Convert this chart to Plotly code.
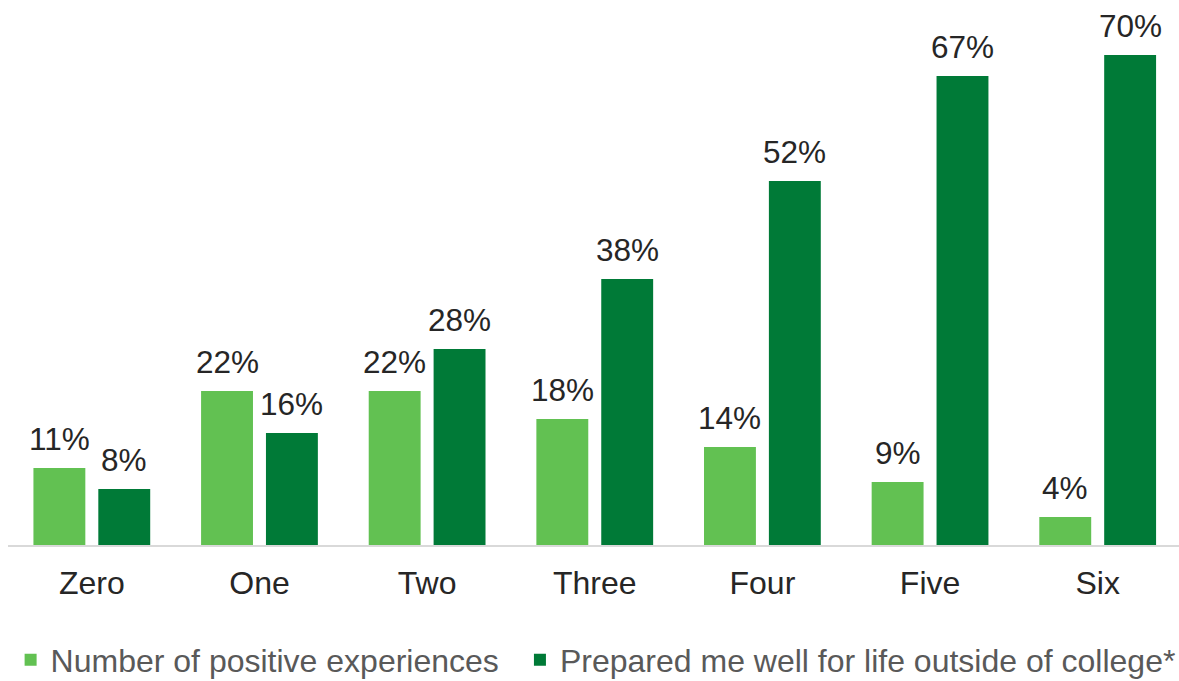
import plotly.graph_objects as go

categories = ["Zero", "One", "Two", "Three", "Four", "Five", "Six"]
positive = [11, 22, 22, 18, 14, 9, 4]
prepared = [8, 16, 28, 38, 52, 67, 70]
series_names = ["Number of positive experiences", "Prepared me well for life outside of college*"]

font = "Liberation Sans, Arial, sans-serif"
colors = ["#62C152", "#007A37"]

W, H = 1179, 681
L, R, T, B = 8, 0, 20, 136
bargap, bargroupgap = 0.226, 0.2
x_range = [-0.5, 6.485]

fig = go.Figure()
for name, vals, col, lg in zip(series_names, [positive, prepared], colors, ["legend", "legend2"]):
    fig.add_trace(go.Bar(x=categories, y=vals, name=name, legend=lg,
                         marker=dict(color=col, line=dict(width=0))))

# value labels as annotations above each bar
cat_px = (W - L - R) / (x_range[1] - x_range[0])
slot = (1 - bargap) * cat_px / 2
for i, vals in enumerate([positive, prepared]):
    shift = (i - 0.5) * slot
    for c, v in zip(categories, vals):
        fig.add_annotation(x=c, y=v, text=f"{v}%", showarrow=False, xanchor="center", yanchor="bottom",
                           xshift=shift, yshift=9,
                           font=dict(size=31.5, color="#262626", family=font))

legend_common = dict(orientation="h", xref="container", yref="container", xanchor="left",
                     y=0.031, yanchor="middle",
                     font=dict(size=32, color="#595959", family=font))

fig.update_layout(
    width=W, height=H,
    margin=dict(l=L, r=R, t=T, b=B, autoexpand=False),
    paper_bgcolor="white", plot_bgcolor="white",
    barmode="group", bargap=bargap, bargroupgap=bargroupgap,
    font=dict(family=font),
    showlegend=True,
    legend=dict(x=0.009, **legend_common),
    legend2=dict(x=0.441, **legend_common),
)
fig.update_xaxes(range=x_range, showline=True, linecolor="#D9D9D9", linewidth=2, ticks="",
                 automargin=False, ticklabelstandoff=9,
                 tickfont=dict(size=32, color="#262626", family=font), showgrid=False)
fig.update_yaxes(range=[0, 75], visible=False, showgrid=False, zeroline=False, automargin=False)

fig.write_html("out.html", config={"displayModeBar": False},
               post_script="document.body.style.margin='0';document.body.style.overflow='hidden';")
